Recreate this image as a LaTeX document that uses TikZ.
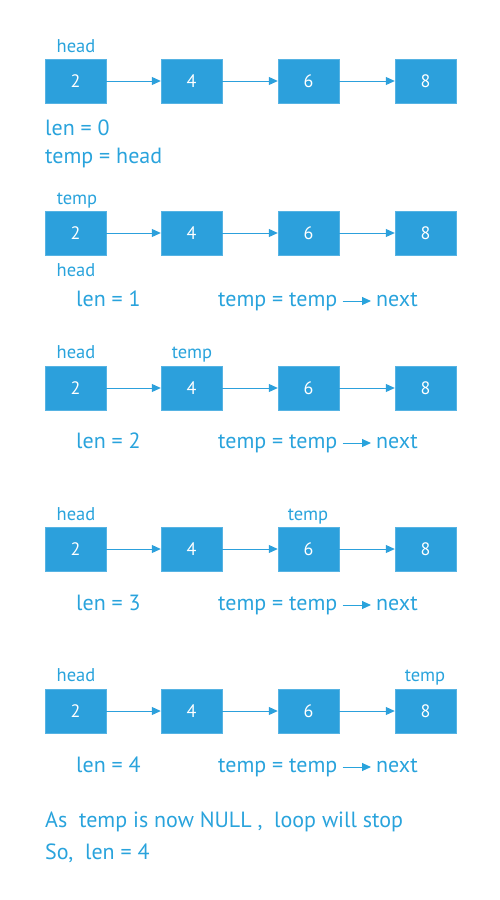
\documentclass[tikz,border=0pt]{standalone}
\usepackage{fontspec}
\setmainfont{PT Sans}
\usetikzlibrary{arrows.meta}
\definecolor{boxblue}{HTML}{2CA0DC}
\definecolor{txtblue}{HTML}{29A3DC}
\tikzset{
  nodebox/.style={draw=boxblue!80!white, fill=boxblue, minimum width=61pt, minimum height=44pt, inner sep=0pt, text=white, font=\fontsize{18}{20}\selectfont},
  link/.style={draw=boxblue, line width=1pt, -{Triangle[length=9pt,width=8pt]}},
  lbl/.style={text=txtblue, font=\fontsize{18.5}{21}\selectfont, inner sep=0pt, text height=13pt, text depth=4pt},
  txt/.style={text=txtblue, font=\fontsize{22}{25}\selectfont, inner sep=0pt, anchor=west, text height=13pt, text depth=3pt},
  smallarrow/.style={draw=txtblue, line width=1pt, -{Triangle[length=9pt,width=8pt]}}
}
\begin{document}
\begin{tikzpicture}[x=1pt,y=-1pt]
\useasboundingbox (0,0) rectangle (500,900);
\foreach \r/\y in {1/81,2/233,3/388,4/549,5/711}{
  \node[nodebox] (a\r) at (75.5,\y) {2};
  \node[nodebox] (b\r) at (191.5,\y) {4};
  \node[nodebox] (c\r) at (308.5,\y) {6};
  \node[nodebox] (d\r) at (425.5,\y) {8};
  \draw[link] (a\r) -- (b\r);
  \draw[link] (b\r) -- (c\r);
  \draw[link] (c\r) -- (d\r);
}
% row 1 labels
\node[lbl] (h1) at (76,48) {head};
\node[txt] (l1) at (45,130) {len = 0};
\node[txt] (t1) at (45,158) {temp = head};
% row 2
\node[lbl] (tp2) at (77,200) {temp};
\node[lbl] (h2) at (76,272) {head};
\node[txt] (l2) at (76,301) {len = 1};
% row 3
\node[lbl] (h3) at (76,354) {head};
\node[lbl] (tp3) at (192,354) {temp};
\node[txt] (l3) at (76,443) {len = 2};
% row 4
\node[lbl] (h4) at (76,516) {head};
\node[lbl] (tp4) at (308,516) {temp};
\node[txt] (l4) at (76,605) {len = 3};
% row 5
\node[lbl] (h5) at (76,677) {head};
\node[lbl] (tp5) at (425,677) {temp};
\node[txt] (l5) at (76,767) {len = 4};
% equations
\foreach \r/\y in {2/301,3/443,4/605,5/767}{
  \node[txt] (e\r) at (218,\y) {temp = temp};
  \node[txt] (n\r) at (376,\y) {next};
  \draw[smallarrow] ([xshift=5pt]e\r.east) -- ([xshift=-5pt]n\r.west);
}
% bottom
\node[txt] (s1) at (45,822) {As\ \ temp is now NULL ,\ \ loop will stop};
\node[txt] (s2) at (45,854) {So,\ \ len = 4};
\end{tikzpicture}
\end{document}
